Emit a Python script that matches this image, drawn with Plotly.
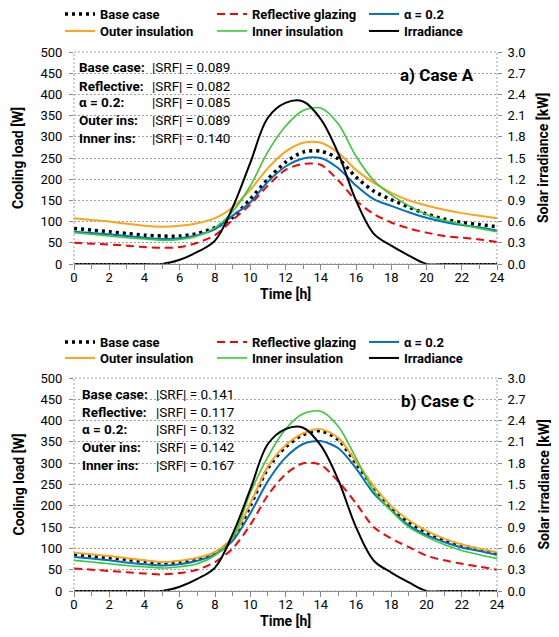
import plotly.graph_objects as go

hours = list(range(25))

# Case A cooling load [W]
base_a = [84, 80, 76, 72, 68, 66, 66, 72, 86, 110, 153, 200, 240, 264, 266, 248, 205, 172, 152, 134, 118, 106, 98, 93, 88]
refl_a = [50, 48, 46, 43, 40, 38, 40, 50, 68, 104, 140, 185, 222, 236, 234, 197, 150, 118, 98, 84, 74, 66, 62, 58, 52]
alpha_a = [76, 73, 70, 66, 62, 59, 61, 68, 82, 114, 145, 194, 230, 249, 250, 226, 185, 153, 137, 122, 109, 99, 92, 86, 79]
outer_a = [108, 104, 100, 95, 90, 88, 90, 96, 108, 134, 175, 226, 265, 286, 286, 262, 222, 192, 168, 150, 138, 128, 120, 114, 108]
inner_a = [74, 70, 66, 62, 59, 56, 58, 66, 86, 124, 184, 265, 325, 362, 368, 330, 254, 197, 163, 137, 117, 103, 93, 84, 76]

# Case C cooling load [W]
base_c = [86, 82, 78, 74, 69, 66, 68, 75, 89, 122, 200, 288, 338, 367, 376, 355, 300, 243, 196, 162, 138, 120, 107, 97, 87]
refl_c = [53, 50, 47, 44, 41, 39, 42, 50, 68, 100, 155, 225, 274, 300, 296, 257, 206, 150, 123, 103, 83, 72, 64, 57, 50]
alpha_c = [80, 76, 72, 67, 63, 60, 63, 71, 86, 118, 182, 258, 313, 345, 352, 335, 288, 229, 190, 154, 131, 115, 102, 94, 85]
outer_c = [90, 86, 82, 77, 72, 68, 71, 78, 92, 126, 205, 292, 342, 370, 380, 359, 304, 246, 199, 166, 141, 123, 109, 99, 91]
inner_c = [72, 68, 64, 60, 57, 54, 57, 64, 84, 124, 230, 315, 380, 416, 422, 386, 312, 236, 188, 150, 127, 109, 95, 85, 76]

# solar irradiance [kW], same day for both cases
irradiance = [0, 0, 0, 0, 0, 0, 0.06, 0.17, 0.33, 0.80, 1.43, 2.07, 2.28, 2.30, 2.05, 1.56, 0.90, 0.43, 0.26, 0.12, 0, 0, 0, 0, 0]

srf_names = ['Base case:', 'Reflective:', 'α = 0.2:', 'Outer ins:', 'Inner ins:']
srf_a = [0.089, 0.082, 0.085, 0.089, 0.140]
srf_c = [0.141, 0.117, 0.132, 0.142, 0.167]

names = ['Base case', 'Reflective glazing', 'α = 0.2', 'Outer insulation', 'Inner insulation']
styles = [
    dict(color='black', width=3.5, dash='3px,4px'),
    dict(color='#ff0000', width=2, dash='8px,5px'),
    dict(color='#0070c0', width=2),
    dict(color='#ffa31a', width=2),
    dict(color='#33cc33', width=1.6),
]

FONT = 'Roboto'
W, H = 551, 629          # page adds an 8px body margin
ML, MR = 12, 12
PW = W - ML - MR
xdom = [54 / PW, 477 / PW]
# each legend row is its own legend: first three entries on one row, last three on the next
panels = [
    dict(loads=[base_a, refl_a, alpha_a, outer_a, inner_a], srf=srf_a, xa='x', ya='y', ya2='y2',
         legends=['legend', 'legend2'], label='a) Case A'),
    dict(loads=[base_c, refl_c, alpha_c, outer_c, inner_c], srf=srf_c, xa='x2', ya='y3', ya2='y4',
         legends=['legend3', 'legend4'], label='b) Case C'),
]

fig = go.Figure()
for p in panels:
    for i, (name, vals, st) in enumerate(zip(names, p['loads'], styles)):
        fig.add_trace(go.Scatter(
            x=hours, y=vals, name=name, mode='lines',
            line=dict(shape='spline', smoothing=0.8, **st),
            xaxis=p['xa'], yaxis=p['ya'], legend=p['legends'][i // 3]))
    fig.add_trace(go.Scatter(
        x=hours, y=irradiance, name='Irradiance', mode='lines',
        line=dict(color='black', width=2, shape='spline', smoothing=1.0),
        xaxis=p['xa'], yaxis=p['ya2'], legend=p['legends'][1]))

xax = dict(range=[0, 24], dtick=2, ticks='outside', ticklen=5, tickcolor='#888',
           minor=dict(dtick=1, ticks='outside', ticklen=4, tickcolor='#888'),
           showline=True, linecolor='#888', linewidth=1, showgrid=False, zeroline=False,
           domain=xdom, tickfont=dict(size=13), automargin=False, ticklabelstandoff=-4)
yax = dict(range=[0, 500], dtick=50, ticks='outside', ticklen=4, tickcolor='#888',
           showgrid=True, gridcolor='#a0a0a0', griddash='2px,2px', zeroline=False,
           tickfont=dict(size=13), automargin=False, ticklabelstandoff=4)
yax2 = dict(range=[0, 3], dtick=0.3, tickformat='.1f', ticks='outside', ticklen=4, tickcolor='#888',
            showgrid=False, zeroline=False, side='right', tickfont=dict(size=13), automargin=False,
            ticklabelstandoff=3)

leg = dict(orientation='h', xanchor='left', yanchor='top', entrywidth=107, x=40 / PW,
           font=dict(size=13, weight='bold'), bgcolor='rgba(0,0,0,0)')

fig.update_layout(
    width=W, height=H,
    margin=dict(l=ML, r=MR, t=0, b=0, autoexpand=False),
    plot_bgcolor='white', paper_bgcolor='white',
    font=dict(family=FONT, size=13, color='black'),
    xaxis=dict(xax, anchor='y'),
    yaxis=dict(yax, domain=[1 - 256 / H, 1 - 44 / H], anchor='x'),
    yaxis2=dict(yax2, overlaying='y', anchor='x'),
    xaxis2=dict(xax, anchor='y3'),
    yaxis3=dict(yax, domain=[1 - 583 / H, 1 - 370 / H], anchor='x2'),
    yaxis4=dict(yax2, overlaying='y3', anchor='x2'),
    legend=dict(leg, y=1 + 9 / H),
    legend2=dict(leg, y=1 - 8 / H),
    legend3=dict(leg, y=1 - 319 / H),
    legend4=dict(leg, y=1 - 335 / H),
)

plot_w = 423
rows_a = [0.929, 0.840, 0.764, 0.679, 0.594]
rows_c = [0.925, 0.840, 0.761, 0.676, 0.592]
for p, rows, x0, x1 in [(panels[0], rows_a, 3, 76), (panels[1], rows_c, 6, 80)]:
    xr = p['xa'] + ' domain'
    yr = p['ya'] + ' domain'
    # dashed plot-area border
    fig.add_shape(type='rect', xref=xr, yref=yr, x0=0, x1=1, y0=0, y1=1,
                  line=dict(color='#a0a0a0', width=1, dash='2px,2px'))
    for nm, v, yy in zip(srf_names, p['srf'], rows):
        fig.add_annotation(xref=xr, yref=yr, x=x0 / plot_w, y=yy, text=nm, showarrow=False,
                           xanchor='left', yanchor='middle', font=dict(size=13.5, weight='bold'))
        fig.add_annotation(xref=xr, yref=yr, x=x1 / plot_w, y=yy, text=f'|SRF| = {v:.3f}', showarrow=False,
                           xanchor='left', yanchor='middle', font=dict(size=13.5))
    fig.add_annotation(xref=xr, yref=yr, x=(plot_w - 21) / plot_w, y=0.892, text=p['label'], showarrow=False,
                       xanchor='right', yanchor='middle', font=dict(size=17, weight='bold'))
    # axis titles
    fig.add_annotation(xref=xr, yref=yr, x=0, y=0.5, xshift=-56, text='Cooling load [W]',
                       textangle=-90, showarrow=False, xanchor='center', yanchor='middle',
                       font=dict(size=14, weight='bold'))
    fig.add_annotation(xref=xr, yref=yr, x=1, y=0.5, xshift=46, text='Solar irradiance [kW]',
                       textangle=-90, showarrow=False, xanchor='center', yanchor='middle',
                       font=dict(size=14, weight='bold'))
    fig.add_annotation(xref=xr, yref=yr, x=0.5, y=0, yshift=-30, text='Time [h]',
                       showarrow=False, xanchor='center', yanchor='middle',
                       font=dict(size=14, weight='bold'))

fig.write_html('out.html')
